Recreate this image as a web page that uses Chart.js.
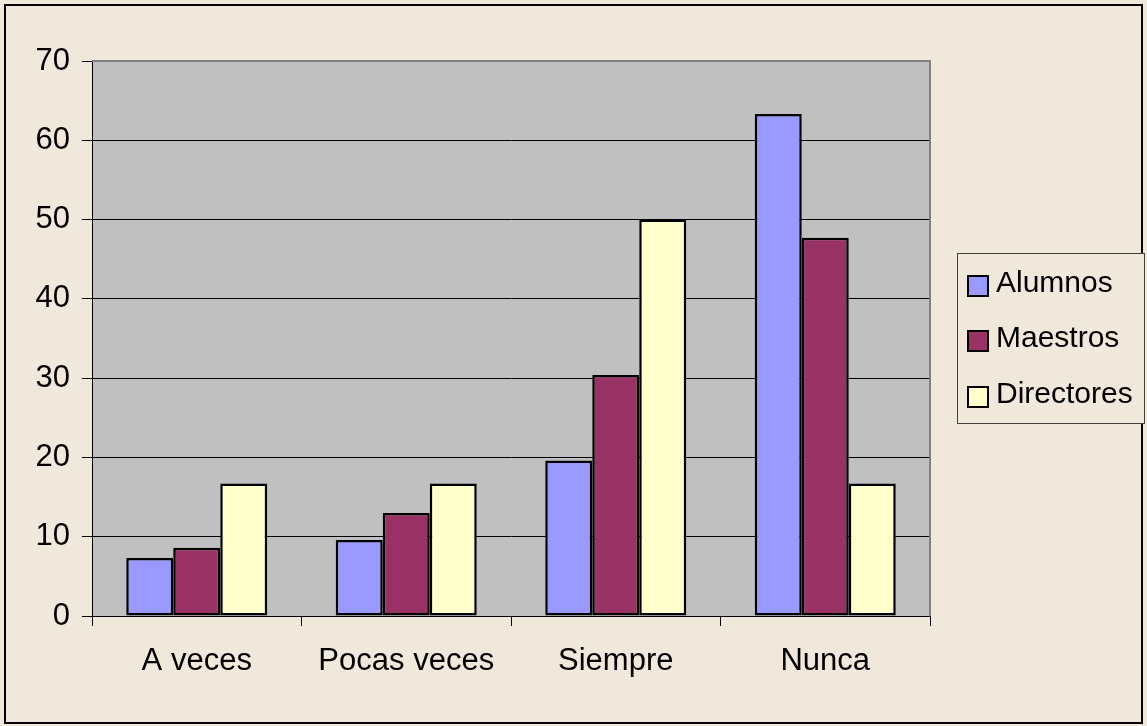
<!DOCTYPE html>
<html>
<head>
<meta charset="utf-8">
<script src="https://cdn.jsdelivr.net/npm/chart.js@4.4.1/dist/chart.umd.min.js"></script>
<style>
  html, body { margin: 0; padding: 0; background: #F0E8DA; }
  #wrap { width: 1147px; height: 726px; position: relative; }
</style>
</head>
<body>
<div id="wrap"><canvas id="c" width="1147" height="726"></canvas></div>
<script>
const categories = ["A veces", "Pocas veces", "Siempre", "Nunca"];
const seriesNames = ["Alumnos", "Maestros", "Directores"];
const alumnos = [7.3, 9.6, 19.6, 63.3];
const maestros = [8.6, 13.0, 30.4, 47.7];
const directores = [16.7, 16.7, 50.0, 16.7];
const yTicks = [0, 10, 20, 30, 40, 50, 60, 70];

const colors = ["#9999FF", "#993366", "#FFFFCC"];
const FONT = "'Liberation Sans', Arial, sans-serif";

const bgPlugin = {
  id: 'bgPlugin',
  beforeDraw(chart) {
    const ctx = chart.ctx;
    const a = chart.chartArea;
    ctx.save();
    ctx.fillStyle = '#F0E8DA';
    ctx.fillRect(0, 0, chart.width, chart.height);
    ctx.fillStyle = '#C0C0C0';
    ctx.fillRect(a.left, a.top, a.right - a.left, a.bottom - a.top);
    ctx.restore();
  },
  afterDraw(chart) {
    const ctx = chart.ctx;
    const a = chart.chartArea;
    ctx.save();
    ctx.strokeStyle = '#808080';
    ctx.lineWidth = 2;
    ctx.beginPath();
    ctx.moveTo(a.left, a.top);
    ctx.lineTo(a.right, a.top);
    ctx.lineTo(a.right, a.bottom);
    ctx.stroke();
    ctx.strokeStyle = '#000000';
    ctx.lineWidth = 2;
    ctx.strokeRect(5, 5, chart.width - 10, chart.height - 8);
    const lx = 957, ly = 253, lw = 187, lh = 170;
    ctx.fillStyle = '#F0E8DA';
    ctx.fillRect(lx, ly, lw, lh);
    ctx.strokeStyle = '#404040';
    ctx.lineWidth = 1;
    ctx.strokeRect(lx + 0.5, ly + 0.5, lw, lh);
    const centers = [286, 341, 397];
    chart.data.datasets.forEach((ds, i) => {
      const cy = centers[i];
      ctx.fillStyle = ds.backgroundColor;
      ctx.fillRect(968, cy - 10, 20, 20);
      ctx.strokeStyle = '#000';
      ctx.lineWidth = 2;
      ctx.strokeRect(968, cy - 10, 20, 20);
      ctx.fillStyle = '#000';
      ctx.font = "30px " + FONT;
      ctx.textBaseline = 'middle';
      ctx.textAlign = 'left';
      ctx.fillText(ds.label, 996, cy - 2);
    });
    ctx.restore();
  }
};

const datasets = [alumnos, maestros, directores].map((d, i) => ({
  label: seriesNames[i],
  data: d,
  backgroundColor: colors[i],
  borderColor: '#000000',
  borderWidth: 2.5,
  borderSkipped: false,
  categoryPercentage: 0.673,
  barPercentage: 1.0
}));

new Chart(document.getElementById('c'), {
  type: 'bar',
  data: { labels: categories, datasets },
  options: {
    responsive: false,
    animation: false,
    devicePixelRatio: 1,
    layout: { padding: { left: 0, top: 61, right: 217, bottom: 0 } },
    plugins: { legend: { display: false }, tooltip: { enabled: false } },
    scales: {
      x: {
        afterFit(scale) { scale.height = 726 - 616; },
        grid: { drawOnChartArea: false, drawTicks: true, tickLength: 10, color: '#000', offset: true },
        border: { display: true, color: '#000', width: 1 },
        ticks: { color: '#000', font: { family: FONT, size: 31 }, padding: 17, maxRotation: 0 }
      },
      y: {
        min: 0, max: 70,
        afterFit(scale) { scale.width = 92; },
        afterBuildTicks(scale) { scale.ticks = yTicks.map(v => ({ value: v })); },
        grid: { color: '#000', lineWidth: 1, drawTicks: true, tickLength: 10, tickColor: '#000' },
        border: { display: true, color: '#000', width: 1 },
        ticks: { color: '#000', font: { family: FONT, size: 31 }, padding: 12 }
      }
    }
  },
  plugins: [bgPlugin]
});
</script>
</body>
</html>
